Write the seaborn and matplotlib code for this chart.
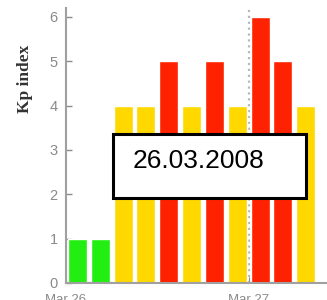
import matplotlib
matplotlib.use('Agg')
import matplotlib.pyplot as plt
import pandas as pd
import seaborn as sns

# Kp index, 3-hour bins starting Mar 26 00 UT
SLOTS = list(range(11))
KP = [1, 1, 4, 4, 5, 4, 5, 4, 6, 5, 4]
LEVEL = ['quiet', 'quiet', 'active', 'active', 'storm', 'active',
         'storm', 'active', 'storm', 'storm', 'active']
LEVEL_COLOURS = {'quiet': '#22ee11', 'active': '#ffd800', 'storm': '#ff2200'}
DAY_TICKS = [-0.5, 7.5]
DAY_LABELS = ['Mar 26', 'Mar 27']
DATE_TEXT = '26.03.2008'

df = pd.DataFrame({'slot': SLOTS, 'kp': KP, 'level': LEVEL})

sns.set_style('white')
plt.rcParams['font.family'] = ['Liberation Sans', 'DejaVu Sans']

fig = plt.figure(figsize=(3.27, 3.0), dpi=100)
ax = fig.add_axes([66 / 327, 17 / 300, 274 / 327, 275 / 300])

ax.axvline(7.5, ls=':', color='#b8b8b8', lw=1.6, zorder=0)
sns.barplot(data=df, x='slot', y='kp', hue='level', palette=LEVEL_COLOURS,
            width=0.83, legend=False, saturation=1, ax=ax, zorder=2)

ax.set_xlim(-0.5, 11.5)
ax.set_ylim(0, 6.2)
ax.set_yticks(range(7))
ax.set_xticks(DAY_TICKS)
ax.set_xticklabels(DAY_LABELS)
ax.set_xticks(SLOTS, minor=True)
ax.set_xlabel('')
ax.set_ylabel('')

grey = '#8a8a8a'
ax.tick_params(axis='y', direction='in', length=4, width=1, color=grey,
               labelcolor=grey, labelsize=10.5, pad=6, left=True)
ax.tick_params(axis='x', which='major', direction='in', length=4, color=grey,
               labelcolor=grey, labelsize=9.5, pad=8, bottom=True)
ax.tick_params(axis='x', which='minor', direction='in', length=4, width=1,
               color='#ffffff90', bottom=True)
for side in ['top', 'right']:
    ax.spines[side].set_visible(False)
for side in ['left', 'bottom']:
    ax.spines[side].set_color('#a0a0a0')
    ax.spines[side].set_linewidth(1.5)
    ax.spines[side].set_zorder(3)

fig.text(25 / 327, 1 - 79 / 300, 'Kp index', rotation=90, ha='center', va='center',
         fontweight='bold', family='Liberation Serif', size=12.5, color='#333333')

fig.patches.append(plt.Rectangle((113 / 327, 1 - 198 / 300), 193 / 327, 64 / 300,
                                 transform=fig.transFigure, facecolor='white',
                                 edgecolor='black', linewidth=2.2, zorder=5))
fig.text(133 / 327, 1 - 161 / 300, DATE_TEXT, ha='left', va='center',
         size=19, color='black', zorder=6)

fig.savefig('out.png', dpi=100)
